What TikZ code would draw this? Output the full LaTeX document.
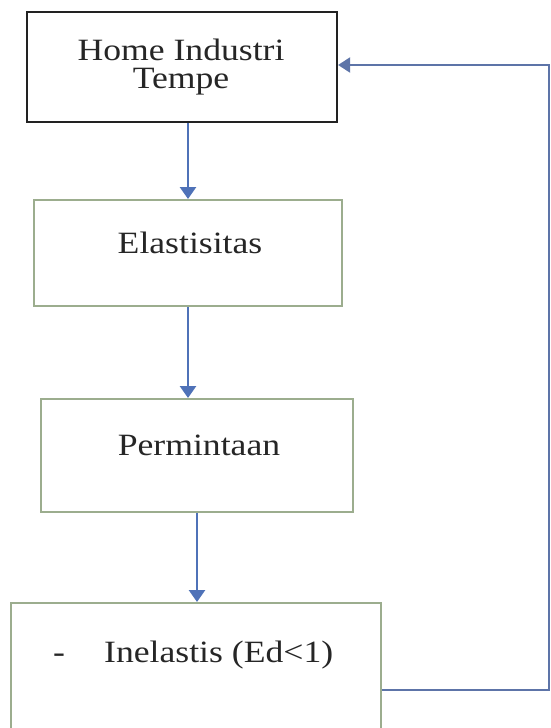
\documentclass[tikz,border=0pt]{standalone}
\usepackage{fontspec}
\setmainfont{Liberation Serif}
\usetikzlibrary{arrows.meta,calc}
\definecolor{arrowblue}{HTML}{4F72B8}
\definecolor{fbblue}{HTML}{5D74A8}
\definecolor{boxgreen}{HTML}{9CAD8E}
\definecolor{boxblack}{HTML}{222222}
\tikzset{
  topbox/.style={draw=boxblack, line width=2.2pt, rectangle, inner sep=0pt, fill=white},
  greenbox/.style={draw=boxgreen, line width=2pt, rectangle, inner sep=0pt, fill=white},
  arr/.style={draw=arrowblue, line width=2.6pt, -{Triangle[length=12pt,width=16pt]}},
  fbarr/.style={draw=fbblue, line width=2.2pt, -{Triangle[length=12pt,width=15pt]}},
  lbl/.style={inner sep=0pt, text=black!85, font=\fontsize{31}{28}\selectfont},
}
\newcommand{\wide}[1]{\scalebox{1.15}[1]{#1}}
\begin{document}
\begin{tikzpicture}[x=1pt,y=-1pt]
\useasboundingbox (0,0) rectangle (550,728);
\clip (0,0) rectangle (550,728);
\fill[white] (0,0) rectangle (550,728);
% boxes
\node[topbox, minimum width=310pt, minimum height=110pt] (b1) at (182,67) {};
\node[greenbox, minimum width=308pt, minimum height=106pt] (b2) at (188,253) {};
\node[greenbox, minimum width=312pt, minimum height=113pt] (b3) at (197,455.5) {};
\node[greenbox, minimum width=370.5pt, minimum height=174pt] (b4) at (195.75,690) {};
% texts
\node[lbl, anchor=base] (t1a) at (181,60) {\wide{Home Industri}};
\node[lbl, anchor=base] (t1b) at (181,88) {\wide{Tempe}};
\node[lbl, anchor=base] (t2) at (190,253) {\wide{Elastisitas}};
\node[lbl, anchor=base] (t3) at (199,455) {\wide{Permintaan}};
\node[lbl, anchor=base west] (t4a) at (53,662) {\wide{-}};
\node[lbl, anchor=base west] (t4b) at (104,662) {\wide{Inelastis (Ed<1)}};
% connectors
\draw[arr] (b2.north |- b1.south) -- (b2.north);
\draw[arr] (b2.south) -- (b2.south |- b3.north);
\draw[arr] (b3.south) -- (b3.south |- b4.north);
\coordinate (corner) at (549,65);
\draw[fbarr] (b4.east) -| (corner) -- (corner -| b1.east);
\end{tikzpicture}
\end{document}
